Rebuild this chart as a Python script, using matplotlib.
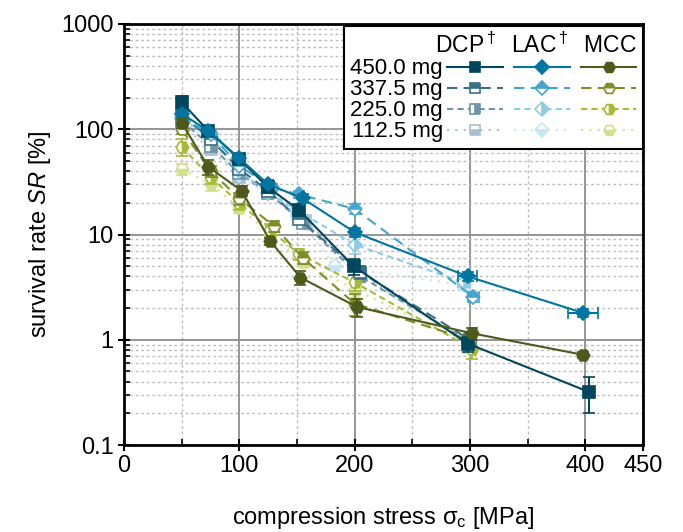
import numpy as np
import matplotlib
matplotlib.use("Agg")
import matplotlib.pyplot as plt
from matplotlib.ticker import FixedLocator, NullFormatter

plt.rcParams["font.family"] = ["Liberation Sans", "DejaVu Sans"]
plt.rcParams["mathtext.fontset"] = "custom"
plt.rcParams["mathtext.rm"] = "Liberation Sans"
plt.rcParams["mathtext.it"] = "Liberation Sans:italic"
plt.rcParams["mathtext.sf"] = "Liberation Sans"

masses = ["450.0 mg", "337.5 mg", "225.0 mg", "112.5 mg"]

# DCP (squares)
dcp_x = [
    [50, 73, 100, 125, 152, 199, 298, 403],
    [50, 75, 100, 125, 152, 205, 300],
    [50, 75, 100, 125, 155, 205, 300],
    [50, 75, 100, 127, 157, 205, 300],
]
dcp_y = [
    [180, 97, 52, 28, 17, 5.0, 0.92, 0.32],
    [140, 80, 42, 26, 14, 4.4, 1.0],
    [120, 70, 38, 25, 13, 4.0, 0.95],
    [110, 65, 35, 27, 13.5, 4.2, 0.9],
]
dcp_yerr = [
    [25, 8, 5, 3, 2, 0.9, 0.15, 0.12],
    [15, 6, 4, 2, 1.5, 0.6, 0.15],
    [12, 5, 3, 2, 1.2, 0.5, 0.12],
    [10, 5, 3, 2, 1.2, 0.5, 0.1],
]

# LAC (diamonds)
lac_x = [
    [50, 73, 100, 125, 155, 200, 298, 398],
    [50, 75, 100, 128, 152, 200, 303],
    [50, 75, 100, 125, 150, 200, 295],
    [50, 75, 100, 125, 150, 183, 295],
]
lac_y = [
    [140, 97, 53, 30, 22, 10.5, 4.0, 1.8],
    [130, 90, 45, 28, 24, 17.5, 2.55],
    [125, 85, 40, 25, 17, 8.0, 3.5],
    [115, 80, 37, 24, 15, 5.0, 3.3],
]
lac_yerr = [
    [15, 8, 5, 3, 2, 1.0, 0.4, 0.15],
    [12, 6, 4, 2, 2, 2.0, 0.25],
    [10, 6, 3, 2, 1.5, 1.5, 0.3],
    [10, 5, 3, 2, 1.2, 0.5, 0.3],
]
lac_xerr = [
    [0, 0, 0, 0, 0, 0, 8, 13],
    [0, 0, 0, 0, 0, 0, 5],
    [0, 0, 0, 0, 0, 0, 5],
    [0, 0, 0, 0, 0, 0, 5],
]

# MCC (hexagons)
mcc_x = [
    [50, 73, 102, 127, 153, 202, 302, 398],
    [50, 75, 100, 130, 155, 200, 300],
    [50, 75, 100, 127, 152, 200, 302],
    [50, 75, 100, 127, 155, 200, 300],
]
mcc_y = [
    [115, 44, 26, 8.6, 3.9, 2.05, 1.15, 0.72],
    [100, 40, 22, 12, 6, 2.2, 1.0],
    [68, 35, 20, 11, 6.5, 3.5, 0.82],
    [42, 30, 18, 10, 5.5, 3.0, 0.9],
]
mcc_yerr = [
    [12, 7, 3, 0.6, 0.6, 0.4, 0.15, 0.05],
    [10, 5, 3, 1.5, 0.8, 0.5, 0.15],
    [12, 5, 3, 1.5, 0.8, 0.6, 0.17],
    [5, 4, 2, 1.2, 0.6, 0.5, 0.15],
]

dcp_colors = ["#00465c", "#3b6f86", "#6f95a7", "#a8c0cb"]
lac_colors = ["#0075a0", "#45a5cf", "#8ecbe5", "#c6e4f1"]
mcc_colors = ["#4e5a1c", "#7d8d27", "#a6ba36", "#d3df8e"]
linestyles = ["-", (0, (5, 3)), (0, (3, 2)), (0, (1, 3))]
fills = ["full", "top", "right", "bottom"]

fig = plt.figure(figsize=(6.83, 5.32), dpi=100)
ax = fig.add_axes([0.1816, 0.1635, 0.7598, 0.7914])

groups = [
    ("s", 8.5, dcp_x, dcp_y, dcp_yerr, None, dcp_colors),
    ("D", 7.5, lac_x, lac_y, lac_yerr, lac_xerr, lac_colors),
    ("H", 9.0, mcc_x, mcc_y, mcc_yerr, None, mcc_colors),
]

handles = []
# draw light series first so solid lines sit on top
for i in [3, 2, 1, 0]:
    for marker, ms, xs, ys, yerr, xerr, cols in groups:
        xe = None if xerr is None else xerr[i]
        ax.errorbar(xs[i], ys[i], yerr=yerr[i], xerr=xe, color=cols[i],
                    ls=linestyles[i], lw=1.5, marker=marker, ms=ms,
                    fillstyle=fills[i], markerfacecoloralt="white",
                    mec=cols[i], mew=1.2, capsize=4, elinewidth=1.5,
                    capthick=1.5, zorder=5 - i * 0.1)

for marker, ms, xs, ys, yerr, xerr, cols in groups:
    for i in range(4):
        h, = ax.plot([], [], color=cols[i], ls=linestyles[i], lw=1.5,
                     marker=marker, ms=ms * 0.9, fillstyle=fills[i],
                     markerfacecoloralt="white", mec=cols[i], mew=1.2)
        handles.append(h)

labels = masses + [""] * 8

ax.set_yscale("log")
ax.set_xlim(0, 450)
ax.set_ylim(0.1, 1000)
ax.set_xticks([0, 100, 200, 300, 400, 450])
ax.set_xticklabels(["0", "100", "200", "300", "400", "450"])
ax.xaxis.set_minor_locator(FixedLocator([50, 150, 250, 350]))
ax.set_yticks([0.1, 1, 10, 100, 1000])
ax.set_yticklabels(["0.1", "1", "10", "100", "1000"])
ax.yaxis.set_minor_formatter(NullFormatter())

ax.grid(which="major", color="#8c8c8c", lw=1.3, ls="-")
ax.grid(which="minor", color="#bdbdbd", lw=1.0, ls=(0, (2, 2)))
ax.set_axisbelow(True)

ax.tick_params(which="major", direction="inout", length=8, width=1.5,
               labelsize=17, colors="black")
ax.tick_params(which="minor", direction="in", length=4, width=1.2)
for s in ax.spines.values():
    s.set_linewidth(2)

ax.set_xlabel("compression stress σ$_\\mathrm{c}$ [MPa]", fontsize=17,
              labelpad=20)
ax.set_ylabel(r"survival rate $\mathit{SR}$ [%]", fontsize=17, labelpad=6)

leg = ax.legend(handles, labels, ncol=3, markerfirst=False, loc="upper right",
                bbox_to_anchor=(1.0, 0.995),
                title=r"DCP$^\dagger$  LAC$^\dagger$  MCC",
                title_fontsize=16.5, alignment="right",
                fontsize=16, handlelength=2.5, handletextpad=0.2,
                columnspacing=0.3, labelspacing=0.0, borderpad=0.3,
                borderaxespad=0.0, fancybox=False, framealpha=1,
                edgecolor="black")
leg.get_frame().set_linewidth(1.5)
leg.set_zorder(10)

fig.savefig("out.png", dpi=100)
